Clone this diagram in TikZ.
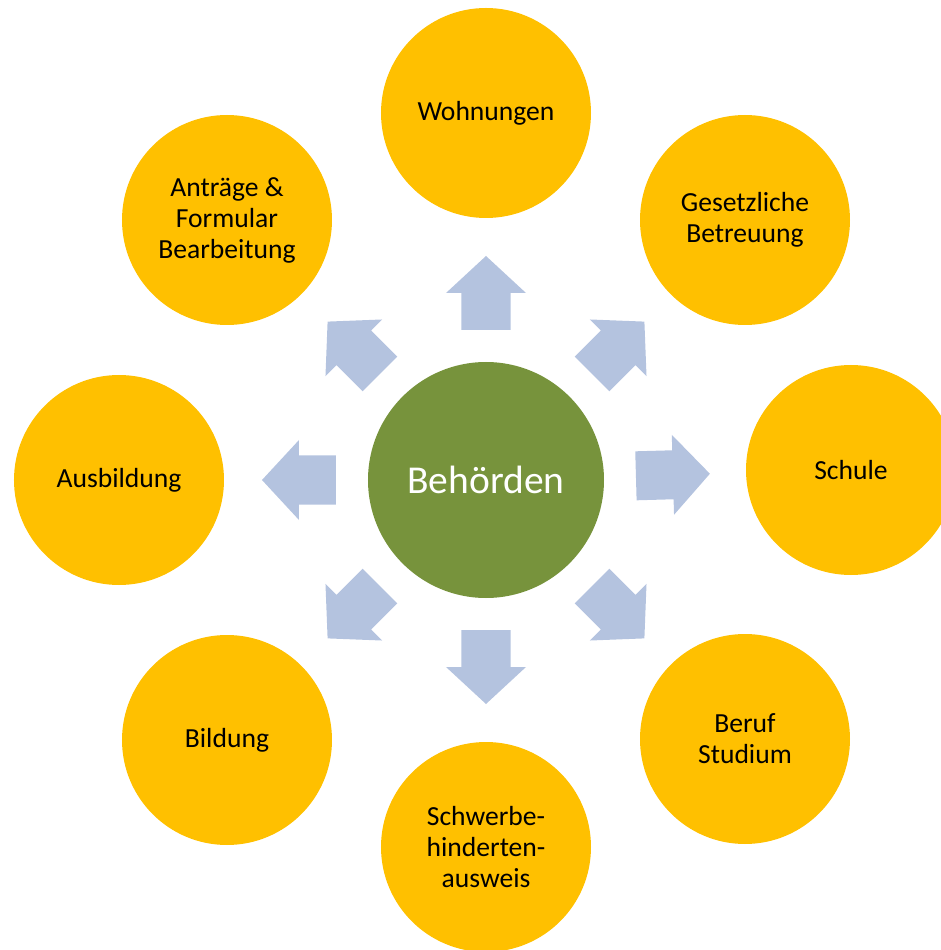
\documentclass[tikz,border=0pt]{standalone}
\usepackage{fontspec}
\setmainfont{Carlito}
\definecolor{orng}{HTML}{FFC000}
\definecolor{olivegreen}{HTML}{77933C}
\definecolor{arrowblue}{HTML}{B4C3DF}
\begin{document}
\begin{tikzpicture}[x=1pt,y=1pt,
  outer/.style={circle, fill=orng, minimum size=210pt, inner sep=0pt, align=center,
    font=\fontsize{27.6}{31}\selectfont, text=black},
  hub/.style={circle, fill=olivegreen, minimum size=236pt, inner sep=0pt,
    font=\fontsize{39.5}{46}\selectfont, text=white},
  blockarrow/.style={fill=arrowblue}]
\clip (-486,-470) rectangle (455,480);
\node[hub] (c) at (0,0) {Behörden};
\node[outer] (wohn) at (0,367) {Wohnungen};
\node[outer] (gesetz) at (259,260) {Gesetzliche\\Betreuung};
\node[outer] (schule) at (365,10) {Schule};
\node[outer] (beruf) at (259,-259) {Beruf\\Studium};
\node[outer] (schwer) at (0,-367) {Schwerbe-\\hinderten-\\ausweis};
\node[outer] (bildung) at (-259,-260) {Bildung};
\node[outer] (ausb) at (-367,0) {Ausbildung};
\node[outer] (antrag) at (-259,260) {Anträge \&\\Formular\\Bearbeitung};
\foreach \a in {90,45,1.6,-45,-90,-135,180,135}
  \fill[blockarrow, shift={(c.center)}, rotate=\a]
    (150,24.5) -- (187,24.5) -- (187,40) -- (224,0) -- (187,-40) -- (187,-24.5) -- (150,-24.5) -- cycle;
\end{tikzpicture}
\end{document}
